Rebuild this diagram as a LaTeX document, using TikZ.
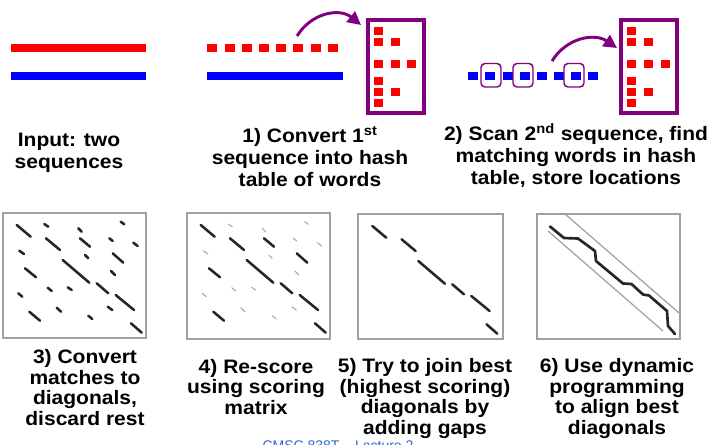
\documentclass[tikz,border=0pt]{standalone}
\usepackage{fontspec}
\setmainfont{Liberation Sans}
\newfontfamily\widesans[FakeStretch=1.08]{Liberation Sans}
\usetikzlibrary{arrows.meta}
\definecolor{myred}{RGB}{255,0,0}
\definecolor{myblue}{RGB}{0,0,255}
\definecolor{mypurple}{RGB}{128,0,128}
\definecolor{footblue}{RGB}{51,102,204}
\definecolor{boxgray}{RGB}{160,160,160}
\begin{document}
\begin{tikzpicture}[x=0.75pt,y=-0.75pt,
  lbltop/.style={font=\widesans\fontsize{14.6}{16.3}\selectfont\bfseries, align=center, inner sep=0pt, anchor=base},
  lbl/.style={font=\widesans\fontsize{14.6}{15.4}\selectfont\bfseries, align=center, inner sep=0pt, anchor=base},
  hashbox/.style={draw=mypurple, line width=3pt},
  wordbox/.style={draw=mypurple, line width=1.1pt, rounded corners=3pt},
  bendarrow/.style={draw=mypurple, line width=2.2pt, -{Triangle[length=10pt,width=10pt]}},
  matbox/.style={draw=boxgray, line width=1.5pt},
  darkseg/.style={draw=black!85, line width=1.9pt, line cap=round},
  lightseg/.style={draw=black!35, line width=0.8pt, line cap=round},
  bandline/.style={draw=black!35, line width=1pt},
  pathline/.style={draw=black!85, line width=2pt, line join=round, line cap=round},
  hashtable/.pic={
    \draw[hashbox] (0,0) rectangle (56,93);
    \foreach \c/\r in {0/0, 0/1, 1/1, 0/2, 1/2, 2/2, 0/3, 0/4, 1/4, 0/5}{
      \pgfmathsetmacro{\rx}{6+16.7*\c}
      \pgfmathsetmacro{\ry}{{6.4,17.4,39.7,56.7,67.7,78.7}[\r]}
      \fill[myred] (\rx,\ry) rectangle ++(9,8);
    }
  }]
\useasboundingbox (0,0) rectangle (714,444);

% ---- Input: two sequences
\fill[myred] (11,43.5) rectangle (146,52);
\fill[myblue] (11,72) rectangle (146,80);
\node[lbltop] (lin) at (69,168.4) {Input: two\\sequences};

% ---- step 1
\foreach \i in {0,...,7}{
  \fill[myred] (207.3+17.2*\i,43.5) rectangle ++(10,8.5);
}
\fill[myblue] (207,72) rectangle (343,80);
\pic (ht1) at (368,20.3) {hashtable};
\coordinate (a1s) at (297,36);
\coordinate (a1e) at (361,25);
\draw[bendarrow] (a1s) .. controls (312,12) and (340,8) .. (a1e);
\node[lbltop] (l1) at (310,186.4) {1) Convert 1\textsuperscript{st}\\sequence into hash\\table of words};

% ---- step 2
\foreach \i in {0,...,7}{
  \fill[myblue] (468.3+17.14*\i,72) rectangle ++(10,8);
}
\foreach \cx in {491,523,574}{
  \draw[wordbox] (\cx-10,63.5) rectangle (\cx+10,87);
}
\pic (ht2) at (621.3,20.3) {hashtable};
\coordinate (a2s) at (552,61);
\coordinate (a2e) at (617,48);
\draw[bendarrow] (a2s) .. controls (567,37) and (595,33) .. (a2e);
\node[lbltop] (l2) at (576,184.4) {2) Scan 2\textsuperscript{nd} sequence, find\\matching words in hash\\table, store locations};

% ---- matrix panels
\draw[matbox] (2.5,213) rectangle (146,337.5);
\draw[matbox] (186.5,213) rectangle (330,338.5);
\draw[matbox] (358,214) rectangle (502.5,338.5);
\draw[matbox] (536.5,214) rectangle (680,338.5);

\def\longsegs{16.7/225/30.7/236.7, 46/238.3/60/250, 80/238.3/90/246.7, 112.7/253.3/123.3/262.7,
  62.7/260/89.3/282.7, 25/268.3/36/277.3, 96.7/283.3/108.3/293.3, 115.7/295/134/310,
  29.3/311.7/40/320.7, 131/323.3/141.7/332.7}
\def\shortsegs{44.3/224/48.3/226.7, 78.3/228.3/81.7/231.7, 120.7/221.7/124.3/224.3,
  109.3/238.3/112.7/241, 133.3/242.7/137.7/246, 19.3/250.7/24/254, 85/255/88.3/258.3,
  111/271/115/275, 47.7/287.7/51.7/291, 67.7/287.3/71.7/290, 18.3/293.3/22.3/296.7,
  107.7/306.7/112.3/310, 56.7/307.7/61/311.7, 88.3/315.7/92.3/319}
\def\bestsegs{16.7/225/30.7/236.7, 46/238.3/60/250, 62.7/260/89.3/282.7,
  96.7/283.3/108.3/293.3, 115.7/295/134/310, 131/323.3/141.7/332.7}

% panel 3) all matches
\foreach \xa/\ya/\xb/\yb in \longsegs { \draw[darkseg] (\xa,\ya) -- (\xb,\yb); }
\foreach \xa/\ya/\xb/\yb in \shortsegs { \draw[darkseg] (\xa,\ya) -- (\xb,\yb); }
% panel 4) re-scored
\begin{scope}[shift={(184,0)}]
\foreach \xa/\ya/\xb/\yb in \longsegs { \draw[darkseg] (\xa,\ya) -- (\xb,\yb); }
\foreach \xa/\ya/\xb/\yb in \shortsegs { \draw[lightseg] (\xa,\ya) -- (\xb,\yb); }
\end{scope}
% panel 5) best diagonals
\begin{scope}[shift={(355.6,1)}]
\foreach \xa/\ya/\xb/\yb in \bestsegs { \draw[darkseg] (\xa,\ya) -- (\xb,\yb); }
\end{scope}
% panel 6) dynamic programming band
\coordinate (bu1) at (565,214);
\coordinate (bu2) at (679,313);
\coordinate (bl1) at (548,231);
\coordinate (bl2) at (663,331);
\draw[bandline] (bu1) -- (bu2);
\draw[bandline] (bl1) -- (bl2);
\draw[pathline] (550,226.5) -- (564,238) -- (578,238.5) -- (595,251) -- (596,261) -- (623,283.5)
  -- (631.5,284) -- (643,294.5) -- (649,295.5) -- (667,311) -- (668,326) -- (675,334);

% ---- bottom labels
\node[lbl] (l3) at (85,425.3) {3) Convert\\matches to\\diagonals,\\discard rest};
\node[lbl] (l4) at (256,414.3) {4) Re-score\\using scoring\\matrix};
\node[lbl] (l5) at (425,434.5) {5) Try to join best\\(highest scoring)\\diagonals by\\adding gaps};
\node[lbl] (l6) at (617,434.5) {6) Use dynamic\\programming\\to align best\\diagonals};

% ---- footer (cut off by page edge, as in the reference)
\node[font=\fontsize{10.5}{12}\selectfont, text=footblue, anchor=base, inner sep=0pt] (foot) at (338,450.5) {CMSC 838T – Lecture 2};
\end{tikzpicture}
\end{document}
